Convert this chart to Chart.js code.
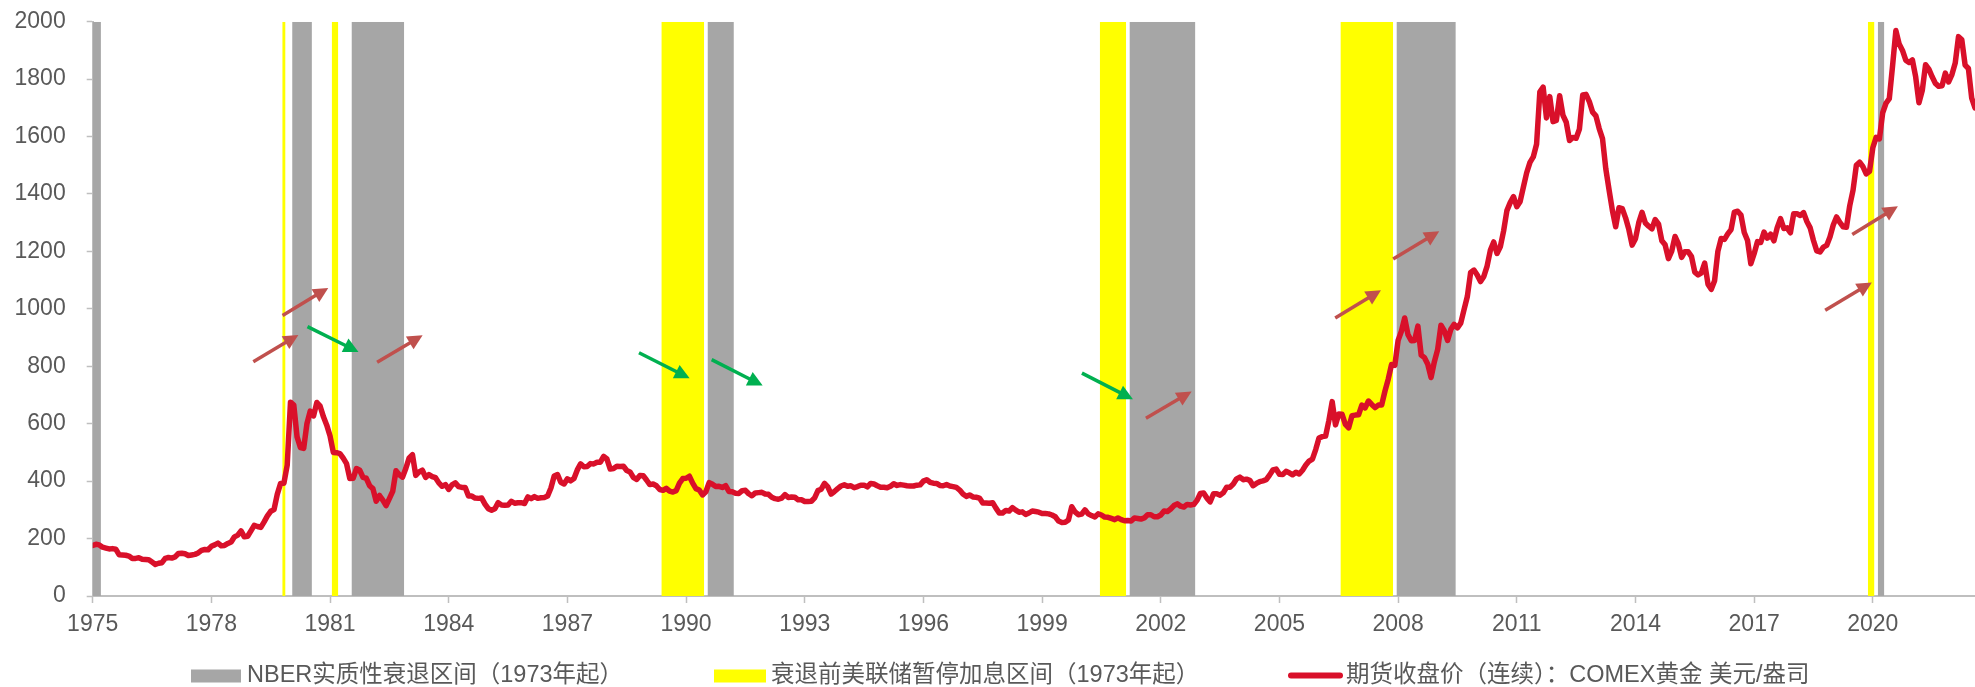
<!DOCTYPE html>
<html>
<head>
<meta charset="utf-8">
<script src="https://cdn.jsdelivr.net/npm/chart.js@4.4.0/dist/chart.umd.min.js"></script>
<style>
  html, body { margin: 0; padding: 0; background: #ffffff; }
  canvas { display: block; }
</style>
</head>
<body>
<canvas id="goldChart" width="1975" height="687"></canvas>
<script>
// ---- data -------------------------------------------------------------
// Monthly series starts in January of this year (one value per month).
const startYear = 1975;

// x-axis tick labels (every three years)
const tickYears = [1975, 1978, 1981, 1984, 1987, 1990, 1993, 1996, 1999, 2002, 2005, 2008, 2011, 2014, 2017, 2020];

// COMEX gold, continuous futures, USD/oz — one row per year, Jan..Dec
const goldClose = [
  176, 180, 178, 170, 167, 164, 165, 163, 144, 143, 142, 139,          // 1975
  131, 131, 133, 128, 127, 126, 118, 110, 114, 116, 131, 134,          // 1976
  132, 136, 148, 149, 147, 141, 143, 145, 150, 159, 162, 161,          // 1977
  173, 178, 184, 175, 176, 183, 188, 206, 212, 227, 206, 208,          // 1978
  227, 246, 242, 239, 258, 279, 295, 301, 355, 392, 393, 455,          // 1979
  675, 665, 554, 517, 514, 601, 644, 627, 674, 661, 624, 595,          // 1980
  557, 500, 499, 496, 480, 461, 409, 410, 444, 438, 413, 410,          // 1981
  384, 374, 330, 350, 334, 315, 339, 364, 436, 422, 414, 445,          // 1982
  481, 492, 420, 432, 438, 413, 423, 416, 412, 394, 382, 388,          // 1983
  371, 387, 394, 381, 378, 378, 348, 348, 341, 340, 341, 320,          // 1984
  304, 299, 304, 325, 317, 316, 317, 330, 323, 325, 325, 322,          // 1985
  345, 339, 346, 340, 342, 343, 348, 376, 418, 423, 396, 390,          // 1986
  408, 401, 409, 439, 460, 450, 451, 461, 460, 466, 466, 486,          // 1987
  477, 442, 444, 452, 451, 452, 437, 432, 413, 406, 420, 419,          // 1988
  404, 388, 390, 384, 371, 368, 375, 365, 362, 367, 393, 409,          // 1989
  410, 417, 393, 374, 369, 352, 363, 395, 389, 381, 382, 378,          // 1990
  384, 364, 363, 358, 357, 367, 368, 356, 349, 359, 360, 361,          // 1991
  355, 354, 344, 339, 337, 341, 353, 343, 345, 344, 335, 335,          // 1992
  329, 329, 330, 342, 367, 372, 392, 380, 355, 364, 374, 383,          // 1993
  387, 382, 384, 377, 381, 386, 386, 380, 392, 390, 384, 379,          // 1994
  379, 377, 382, 391, 385, 388, 386, 384, 383, 383, 386, 387,          // 1995
  400, 405, 396, 393, 392, 385, 384, 388, 383, 381, 378, 369,          // 1996
  355, 347, 352, 345, 344, 341, 324, 324, 323, 325, 306, 289,          // 1997
  289, 298, 296, 308, 299, 292, 293, 284, 289, 296, 294, 292,          // 1998
  287, 287, 286, 282, 276, 261, 256, 257, 265, 311, 293, 283,          // 1999
  285, 300, 286, 280, 275, 286, 282, 275, 274, 270, 266, 272,          // 2000
  266, 262, 263, 261, 272, 270, 268, 272, 283, 283, 276, 276,          // 2001
  282, 296, 294, 303, 315, 321, 313, 310, 319, 317, 319, 333,          // 2002
  357, 359, 341, 328, 356, 356, 351, 360, 379, 379, 390, 408,          // 2003
  414, 405, 407, 403, 384, 392, 398, 401, 405, 421, 439, 442,          // 2004
  424, 423, 434, 429, 422, 431, 425, 438, 456, 470, 477, 510,          // 2005
  550, 555, 557, 611, 677, 596, 634, 633, 598, 586, 628, 630,          // 2006
  631, 665, 655, 679, 667, 656, 665, 665, 713, 755, 806, 803,          // 2007
  890, 922, 968, 910, 889, 890, 940, 839, 830, 807, 761, 816,          // 2008
  859, 943, 924, 890, 929, 946, 934, 950, 997, 1043, 1127, 1135,       // 2009
  1118, 1095, 1113, 1149, 1205, 1233, 1193, 1216, 1271, 1342, 1370, 1391, // 2010
  1356, 1373, 1424, 1474, 1510, 1529, 1573, 1756, 1772, 1665, 1739, 1652, // 2011
  1656, 1742, 1674, 1650, 1586, 1597, 1594, 1626, 1745, 1747, 1722, 1685, // 2012
  1672, 1628, 1593, 1488, 1414, 1343, 1286, 1352, 1349, 1317, 1276, 1222, // 2013
  1244, 1300, 1336, 1299, 1288, 1279, 1311, 1295, 1237, 1223, 1175, 1201, // 2014
  1252, 1227, 1179, 1199, 1199, 1182, 1128, 1118, 1125, 1159, 1086, 1068, // 2015
  1098, 1200, 1245, 1242, 1261, 1276, 1337, 1340, 1327, 1266, 1238, 1157, // 2016
  1192, 1234, 1231, 1267, 1246, 1260, 1237, 1283, 1314, 1280, 1282, 1265, // 2017
  1331, 1331, 1325, 1335, 1304, 1282, 1238, 1202, 1198, 1215, 1221, 1250, // 2018
  1292, 1320, 1301, 1286, 1284, 1359, 1413, 1500, 1511, 1495, 1470, 1479, // 2019
  1561, 1597, 1592, 1683, 1716, 1732, 1847, 1969, 1922, 1900, 1866, 1858, // 2020
  1867, 1808, 1718, 1760, 1850, 1835, 1808, 1785, 1775, 1777, 1821, 1790, // 2021
  1816, 1856, 1948, 1937, 1849, 1837, 1734, 1700                          // 2022
];

// NBER recession months (first month, last month)
const nberRecessions = [
  ['1975-01', '1975-03'],
  ['1980-02', '1980-07'],
  ['1981-08', '1982-11'],
  ['1990-08', '1991-03'],
  ['2001-04', '2002-11'],
  ['2008-01', '2009-06'],
  ['2020-03', '2020-04']
];

// Fed rate-hike pauses ahead of each recession (first month, last month)
const fedPauses = [
  ['1979-11', '1979-11'],
  ['1981-02', '1981-03'],
  ['1989-06', '1990-06'],
  ['2000-07', '2001-02'],
  ['2006-08', '2007-11'],
  ['2019-12', '2020-01']
];

// Annotation arrows: [fromYear, fromPrice, toYear, toPrice]
const risingArrows = [
  [1979.06, 816, 1980.20, 909],
  [1979.80, 977, 1980.955, 1073],
  [1982.19, 814, 1983.34, 908],
  [2001.625, 619, 2002.78, 712],
  [2006.41, 968, 2007.566, 1065],
  [2007.875, 1174, 2009.04, 1270],
  [2018.797, 995, 2019.977, 1092],
  [2019.48, 1259, 2020.634, 1357]
];
const fallingArrows = [
  [1980.43, 938, 1981.72, 850],
  [1988.81, 847, 1990.09, 758],
  [1990.647, 823, 1991.936, 733],
  [2000.008, 776, 2001.297, 685]
];

const seriesNames = [
  'NBER实质性衰退区间（1973年起）',
  '衰退前美联储暂停加息区间（1973年起）',
  '期货收盘价（连续）：COMEX黄金 美元/盎司'
];

// ---- helpers -----------------------------------------------------------
const FONT = "Arial, 'Liberation Sans', 'Noto Sans CJK SC', sans-serif";
const TEXT_COLOR = '#595959';
const AXIS_COLOR = '#BFBFBF';
const GRAY = '#A6A6A6';
const YELLOW = '#FFFF00';
const RED = '#D9102A';
const Y_MAX = 2000;

function monthToYear(s) {
  const [y, m] = s.split('-').map(Number);
  return y + (m - 1) / 12;
}

// each period is a full-height block covering its months
function periodBlocks(periods) {
  const pts = [];
  periods.forEach(([a, b]) => {
    const x0 = monthToYear(a) - 1 / 24;
    const x1 = monthToYear(b) + 1 / 24;
    pts.push({ x: x0, y: Y_MAX }, { x: x1, y: Y_MAX }, { x: x1, y: null });
  });
  return pts;
}

const goldPoints = goldClose.map((v, i) => ({ x: startYear + i / 12, y: v }));
const lastX = goldPoints[goldPoints.length - 1].x;

// ---- plugins -----------------------------------------------------------
function drawArrow(ctx, x0, y0, x1, y1, color) {
  const ang = Math.atan2(y1 - y0, x1 - x0);
  const headLen = 15, headHalf = 7.5;
  const bx = x1 - headLen * Math.cos(ang);
  const by = y1 - headLen * Math.sin(ang);
  ctx.strokeStyle = color;
  ctx.lineWidth = 3.5;
  ctx.lineCap = 'butt';
  ctx.beginPath();
  ctx.moveTo(x0, y0);
  ctx.lineTo(bx + Math.cos(ang), by + Math.sin(ang));
  ctx.stroke();
  ctx.fillStyle = color;
  ctx.beginPath();
  ctx.moveTo(x1, y1);
  ctx.lineTo(bx + headHalf * Math.sin(ang), by - headHalf * Math.cos(ang));
  ctx.lineTo(bx - headHalf * Math.sin(ang), by + headHalf * Math.cos(ang));
  ctx.closePath();
  ctx.fill();
}

const arrowPlugin = {
  id: 'arrows',
  afterDatasetsDraw(chart) {
    const { ctx, scales: { x, y } } = chart;
    ctx.save();
    risingArrows.forEach(a => drawArrow(ctx, x.getPixelForValue(a[0]), y.getPixelForValue(a[1]),
      x.getPixelForValue(a[2]), y.getPixelForValue(a[3]), '#C0504D'));
    fallingArrows.forEach(a => drawArrow(ctx, x.getPixelForValue(a[0]), y.getPixelForValue(a[1]),
      x.getPixelForValue(a[2]), y.getPixelForValue(a[3]), '#00B050'));
    ctx.restore();
  }
};

const legendPlugin = {
  id: 'bottomLegend',
  afterDraw(chart) {
    const ctx = chart.ctx;
    const cy = chart.height - 11;
    const startX = [191, 714, 1288];
    ctx.save();
    ctx.font = '23.5px ' + FONT;
    ctx.textBaseline = 'middle';
    ctx.textAlign = 'left';
    // gray block
    ctx.fillStyle = GRAY;
    ctx.fillRect(startX[0], cy - 6.5, 50, 13);
    ctx.fillStyle = TEXT_COLOR;
    ctx.fillText(seriesNames[0], startX[0] + 56, cy);
    // yellow block
    ctx.fillStyle = YELLOW;
    ctx.fillRect(startX[1], cy - 6.5, 52, 13);
    ctx.fillStyle = TEXT_COLOR;
    ctx.fillText(seriesNames[1], startX[1] + 57, cy);
    // red line
    ctx.strokeStyle = RED;
    ctx.lineWidth = 6;
    ctx.lineCap = 'round';
    ctx.beginPath();
    ctx.moveTo(startX[2] + 3, cy - 0.5);
    ctx.lineTo(startX[2] + 52, cy - 0.5);
    ctx.stroke();
    ctx.fillStyle = TEXT_COLOR;
    ctx.fillText(seriesNames[2], startX[2] + 58, cy);
    ctx.restore();
  }
};

// ---- chart -------------------------------------------------------------
Chart.defaults.font.family = FONT;
Chart.defaults.color = TEXT_COLOR;

new Chart(document.getElementById('goldChart'), {
  type: 'line',
  data: {
    datasets: [
      {
        label: seriesNames[2],
        data: goldPoints,
        borderColor: RED,
        backgroundColor: RED,
        borderWidth: 5.5,
        borderJoinStyle: 'round',
        borderCapStyle: 'round',
        pointRadius: 0,
        tension: 0,
        fill: false,
        order: 0
      },
      {
        label: seriesNames[0],
        data: periodBlocks(nberRecessions),
        borderColor: 'rgba(0,0,0,0)',
        borderWidth: 0,
        backgroundColor: GRAY,
        pointRadius: 0,
        fill: 'origin',
        spanGaps: false,
        order: 1
      },
      {
        label: seriesNames[1],
        data: periodBlocks(fedPauses),
        borderColor: 'rgba(0,0,0,0)',
        borderWidth: 0,
        backgroundColor: YELLOW,
        pointRadius: 0,
        fill: 'origin',
        spanGaps: false,
        order: 2
      }
    ]
  },
  options: {
    responsive: false,
    animation: false,
    devicePixelRatio: 1,
    layout: { padding: { top: 21.7, right: 0, bottom: 0, left: 0 } },
    plugins: {
      legend: { display: false },
      tooltip: { enabled: false }
    },
    scales: {
      x: {
        type: 'linear',
        min: startYear,
        max: lastX,
        z: 1,
        afterBuildTicks: (scale) => { scale.ticks = tickYears.map(v => ({ value: v })); },
        afterFit: (scale) => {
          scale.height = 91;
          scale.paddingRight = 0;
        },
        ticks: {
          autoSkip: false,
          maxRotation: 0,
          padding: 8,
          color: TEXT_COLOR,
          font: { size: 23 },
          callback: (v) => String(v)
        },
        grid: {
          drawOnChartArea: false,
          drawTicks: true,
          tickLength: 7,
          tickWidth: 1.5,
          tickColor: AXIS_COLOR
        },
        border: { display: true, color: AXIS_COLOR, width: 2 }
      },
      y: {
        min: 0,
        max: Y_MAX,
        z: 1,
        afterFit: (scale) => {
          scale.width = 92.7;
          scale.paddingTop = 0;
          scale.paddingBottom = 0;
        },
        ticks: {
          stepSize: 200,
          padding: 21,
          color: TEXT_COLOR,
          font: { size: 23 },
          callback: (v) => String(v)
        },
        grid: {
          drawOnChartArea: false,
          drawTicks: true,
          tickLength: 6,
          tickWidth: 1.5,
          tickColor: AXIS_COLOR
        },
        border: { display: true, color: AXIS_COLOR, width: 2 }
      }
    }
  },
  plugins: [arrowPlugin, legendPlugin]
});
</script>
</body>
</html>
